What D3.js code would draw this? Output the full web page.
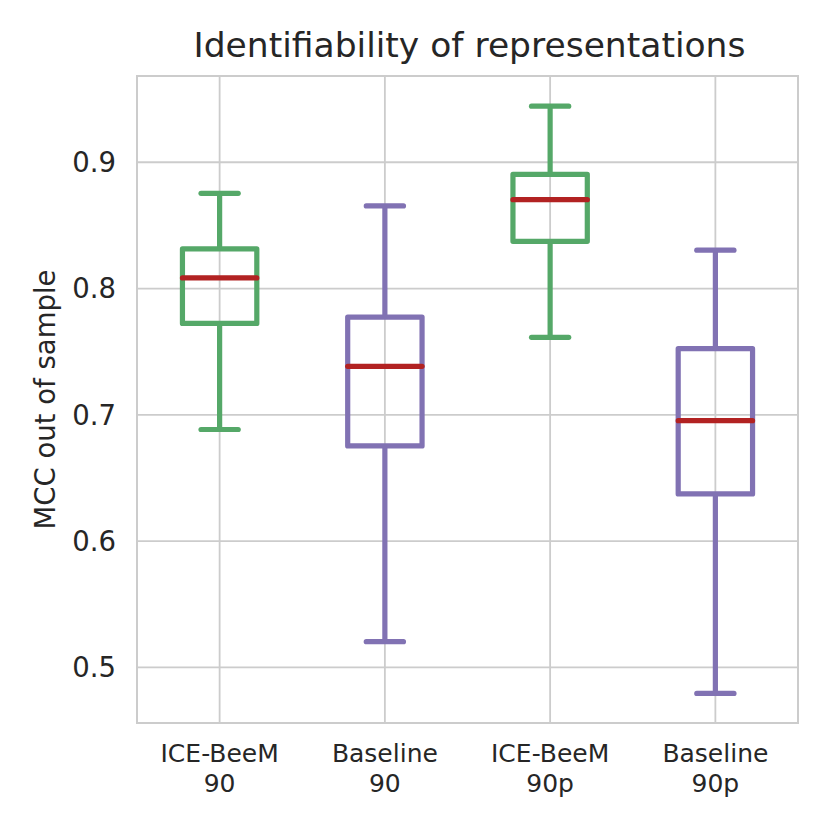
<!DOCTYPE html>
<html>
<head>
<meta charset="utf-8">
<script src="https://cdn.jsdelivr.net/npm/d3@7"></script>
<style>
  body { margin: 0; background: #fff; }
  #chart text { font-family: "DejaVu Sans", sans-serif; fill: #262626; }
  .axis .domain { display: none; }
  .axis line { stroke: #cccccc; stroke-width: 1.8; }
</style>
</head>
<body>
<div id="chart"></div>
<script>
// data
const categories = ['ICE-BeeM 90', 'Baseline 90', 'ICE-BeeM 90p', 'Baseline 90p'];
const groups = ['ice', 'base', 'ice', 'base'];
const whiskerLow = [0.688, 0.520, 0.761, 0.479];
const q1 = [0.772, 0.675, 0.837, 0.637];
const medians = [0.808, 0.738, 0.870, 0.695];
const q3 = [0.831, 0.777, 0.890, 0.752];
const whiskerHigh = [0.875, 0.865, 0.944, 0.830];
const yTicks = [0.5, 0.6, 0.7, 0.8, 0.9];
const yLimits = [0.4556, 0.9679];

const colors = { ice: '#55a868', base: '#8172b3' };
const medianColor = '#b22222';

let width,
    height,
    xScale,
    yScale,
    margins = {
      top: 76,
      right: 32,
      bottom: 107,
      left: 137
    };

let $svg, $g;

function init() {
  width = 830 - margins.left - margins.right;
  height = 830 - margins.top - margins.bottom;

  const boxes = categories.map((c, i) => ({
    name: c,
    group: groups[i],
    lo: whiskerLow[i],
    q1: q1[i],
    med: medians[i],
    q3: q3[i],
    hi: whiskerHigh[i]
  }));

  xScale = d3.scaleBand()
    .domain(categories)
    .range([0, width])
    .padding(0);

  yScale = d3.scaleLinear()
    .domain(yLimits)
    .range([height, 0]);

  $svg = d3.select('#chart').append('svg')
    .attr('width', 830)
    .attr('height', 830);

  $svg.append('rect')
    .attr('width', 830)
    .attr('height', 830)
    .attr('fill', '#fff');

  $g = $svg.append('g')
    .attr('transform', `translate(${margins.left}, ${margins.top})`);

  // grid + ticks
  const yAxis = d3.axisLeft(yScale)
    .tickValues(yTicks)
    .tickFormat(d3.format('.1f'))
    .tickSize(-width)
    .tickPadding(21);

  const xAxis = d3.axisBottom(xScale)
    .tickSize(-height)
    .tickPadding(20);

  const $y = $g.append('g')
    .classed('y axis', true)
    .call(yAxis);

  $y.selectAll('text')
    .style('font-size', '27.5px')
    .attr('dy', '0.36em');

  const $x = $g.append('g')
    .classed('x axis', true)
    .attr('transform', `translate(0, ${height})`)
    .call(xAxis);

  $x.selectAll('text')
    .style('font-size', '25px')
    .attr('dy', null)
    .attr('y', 39)
    .each(function(d) {
      const parts = d.split(' ');
      const t = d3.select(this).text(null);
      parts.forEach((p, k) => {
        t.append('tspan')
          .attr('x', 0)
          .attr('dy', k === 0 ? 0 : 29.5)
          .text(p);
      });
    });

  // frame
  $g.append('rect')
    .attr('width', width)
    .attr('height', height)
    .attr('fill', 'none')
    .attr('stroke', '#cccccc')
    .attr('stroke-width', 2);

  const boxW = xScale.bandwidth() * 0.45;
  const capW = boxW / 2;

  const $boxes = $g.selectAll('.box')
    .data(boxes)
    .enter()
    .append('g')
    .classed('box', true)
    .attr('transform', d => `translate(${xScale(d.name) + xScale.bandwidth() / 2}, 0)`)
    .attr('stroke', d => colors[d.group])
    .attr('stroke-width', 5.2)
    .attr('fill', 'none');

  // whiskers
  $boxes.append('line')
    .attr('y1', d => yScale(d.q1))
    .attr('y2', d => yScale(d.lo));

  $boxes.append('line')
    .attr('y1', d => yScale(d.q3))
    .attr('y2', d => yScale(d.hi));

  // caps
  $boxes.selectAll('.cap')
    .data(d => [d.lo, d.hi])
    .enter()
    .append('line')
    .classed('cap', true)
    .attr('x1', -capW / 2)
    .attr('x2', capW / 2)
    .attr('y1', v => yScale(v))
    .attr('y2', v => yScale(v))
    .attr('stroke-linecap', 'round');

  $boxes.append('rect')
    .attr('x', -boxW / 2)
    .attr('width', boxW)
    .attr('y', d => yScale(d.q3))
    .attr('height', d => yScale(d.q1) - yScale(d.q3))
    .attr('stroke-linejoin', 'round');

  $boxes.append('line')
    .attr('x1', -boxW / 2)
    .attr('x2', boxW / 2)
    .attr('y1', d => yScale(d.med))
    .attr('y2', d => yScale(d.med))
    .attr('stroke', medianColor)
    .attr('stroke-linecap', 'round');

  // labels
  $svg.append('text')
    .attr('x', margins.left + width / 2 + 2)
    .attr('y', 57)
    .attr('text-anchor', 'middle')
    .style('font-size', '34.5px')
    .text('Identifiability of representations');

  $svg.append('text')
    .attr('transform', `translate(55, ${margins.top + height / 2}) rotate(-90)`)
    .attr('text-anchor', 'middle')
    .style('font-size', '27.5px')
    .text('MCC out of sample');
}

init();
</script>
</body>
</html>
